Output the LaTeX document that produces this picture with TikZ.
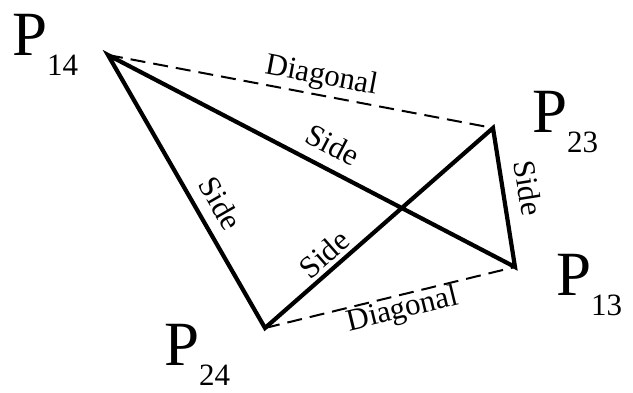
\documentclass[tikz,border=0pt]{standalone}
\usepackage{fontspec}
\setmainfont{Liberation Serif}
\begin{document}
\begin{tikzpicture}[x=1pt,y=-1pt,
  side/.style={line width=4.2pt, line join=miter},
  diag/.style={line width=2pt, dash pattern=on 15pt off 8pt},
  lab/.style={font=\fontsize{31}{31}\selectfont, sloped, text depth=0pt, text height=0pt, outer sep=0pt},
  vlab/.style={anchor=base west, inner sep=0pt, font=\fontsize{63}{63}\selectfont}]
\useasboundingbox (0,0) rectangle (633,392);
\coordinate (P14) at (108,55);
\coordinate (P23) at (493,128);
\coordinate (P13) at (515,267);
\coordinate (P24) at (265,328);
\draw[side] (P13) -- (P14) -- (P24) -- (P23) -- cycle;
\draw[diag] (P14) -- (P23);
\draw[diag] (P24) -- (P13);
\path (P14) -- (P23) node[lab, pos=0.545, above, inner sep=11pt] (d1) {Diagonal};
\path (P24) -- (P13) node[lab, pos=0.536, below, inner sep=23pt] (d2) {Diagonal};
\path (P14) -- (P13) node[lab, pos=0.525, above, inner sep=14pt] (s1) {Side};
\path (P14) -- (P24) node[lab, pos=0.587, above, inner sep=13pt] (s2) {Side};
\path (P24) -- (P23) node[lab, pos=0.307, above, inner sep=6pt] (s3) {Side};
\path (P23) -- (P13) node[lab, pos=0.46, above, inner sep=15pt] (s4) {Side};
\newcommand{\vsub}[1]{\raisebox{-20.5pt}{\fontsize{31}{31}\selectfont #1}}
\node[vlab] (L14) at (12,55) {P\vsub{14}};
\node[vlab] (L23) at (532,132) {P\vsub{23}};
\node[vlab] (L13) at (556,295) {P\vsub{13}};
\node[vlab] (L24) at (164,365) {P\vsub{24}};
\end{tikzpicture}
\end{document}
